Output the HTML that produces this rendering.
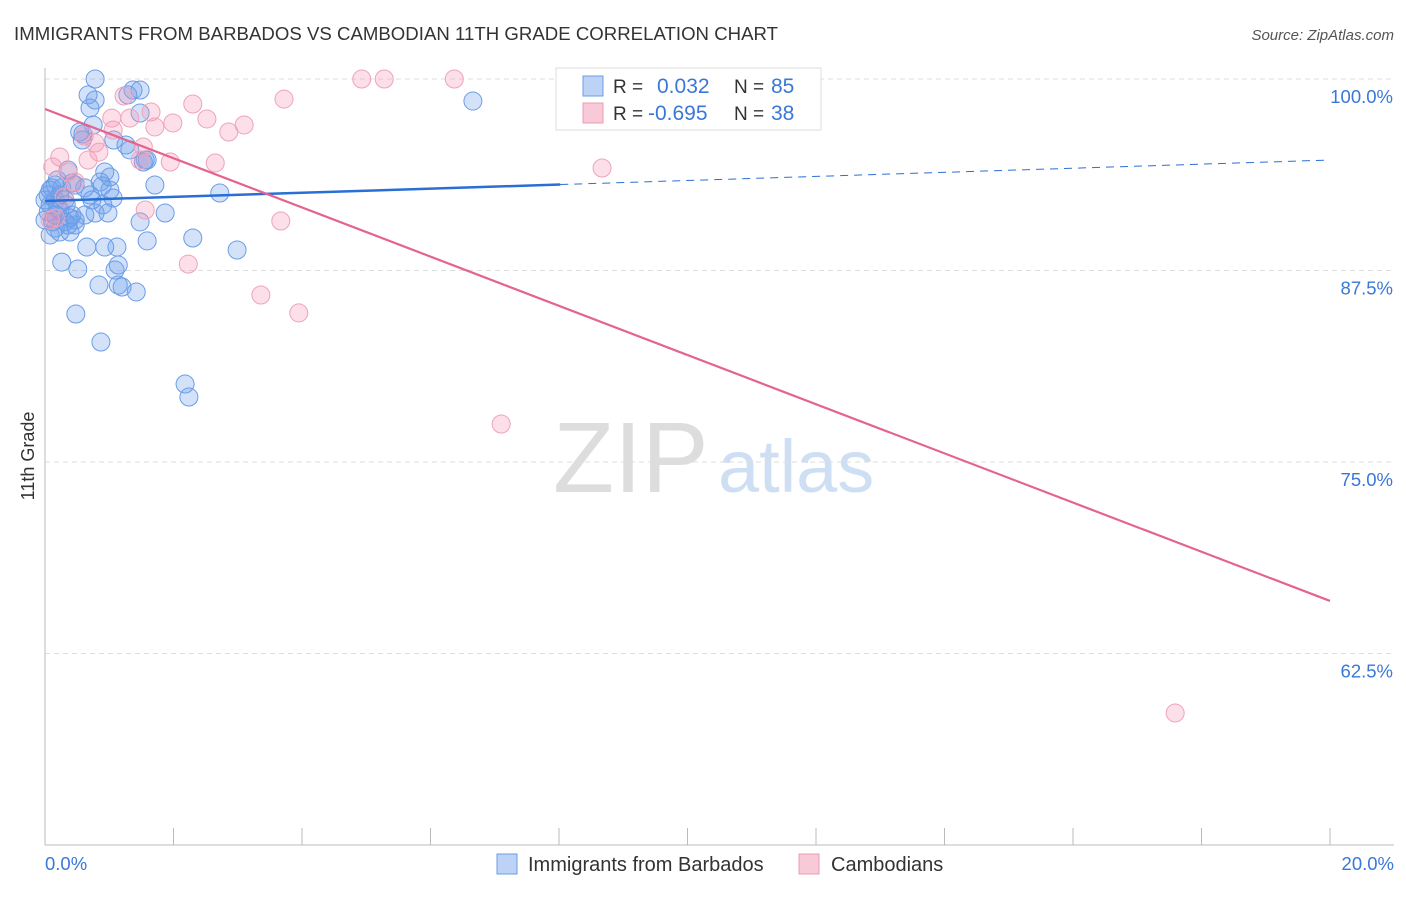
<!DOCTYPE html>
<html><head><meta charset="utf-8"><style>
body{margin:0;background:#fff;font-family:"Liberation Sans",sans-serif;}
svg text{font-family:"Liberation Sans",sans-serif;}
</style></head><body>
<svg id="chart" width="1406" height="892" xmlns="http://www.w3.org/2000/svg">
<text x="14" y="40" font-size="18.6" fill="#333" textLength="764">IMMIGRANTS FROM BARBADOS VS CAMBODIAN 11TH GRADE CORRELATION CHART</text>
<text x="1394" y="40" font-size="15" fill="#555" text-anchor="end" font-style="italic">Source: ZipAtlas.com</text>
<text x="34" y="456" font-size="18" fill="#333" text-anchor="middle" transform="rotate(-90 34 456)">11th Grade</text>
<text x="553" y="492" font-size="100" fill="#ddd" font-family="Liberation Serif">ZIP</text>
<text x="718" y="492" font-size="74" fill="#cfdff3">atlas</text>
<g id="grid"></g><g id="axes"></g><g id="pts"></g><g id="lines"></g>
<g>
<rect x="556" y="68" width="265" height="62" fill="#fff" stroke="#ddd"/>
<rect x="583" y="76" width="20" height="20" fill="#bcd3f5" stroke="#6b9de8"/>
<rect x="583" y="103" width="20" height="20" fill="#f8cad8" stroke="#ec9bb5"/>
<text x="613" y="93" font-size="19" fill="#333">R = </text><text x="657" y="93" font-size="21" fill="#3a78d8">0.032</text>
<text x="734" y="93" font-size="19" fill="#333">N = </text><text x="771" y="93" font-size="21" fill="#3a78d8">85</text>
<text x="613" y="120" font-size="19" fill="#333">R = </text><text x="648" y="120" font-size="21" fill="#3a78d8">-0.695</text>
<text x="734" y="120" font-size="19" fill="#333">N = </text><text x="771" y="120" font-size="21" fill="#3a78d8">38</text>
</g>
<g>
<rect x="497" y="854" width="20" height="20" fill="#bcd3f5" stroke="#6b9de8"/>
<text x="528" y="871" font-size="20" fill="#333">Immigrants from Barbados</text>
<rect x="799" y="854" width="20" height="20" fill="#f8cad8" stroke="#ec9bb5"/>
<text x="831" y="871" font-size="20" fill="#333">Cambodians</text>
</g>
</svg>
<script>
const blueX=[.78,.67,1.37,1.48,.78,.70,1.29,1.48,.75,.54,.58,1.07,1.26,1.59,1.53,.93,1.01,.36,.16,.42,.62,.89,1.71,2.72,.08,.23,.70,1.06,.90,.08,.20,.31,.16,.39,.47,.78,.98,1.87,1.48,.23,.39,.08,2.30,1.59,.93,.65,1.12,2.99,.26,.51,1.14,1.09,.84,1.20,1.42,.48,.87,2.18,2.24,6.66,.16,.31,.05,.11,.47,.26,0,.12,.36,.62,1.14,.42,.23,.86,1.32,1.56,.59,.19,.05,.33,.47,.16,.73,1.01,0];
const blueY=[100,98.96,99.28,99.28,98.63,98.11,98.96,97.78,97.0,96.54,96.02,96.02,95.69,94.71,94.58,93.93,93.6,94.06,93.08,93.21,92.89,93.02,93.08,92.56,92.75,92.43,92.43,92.23,91.78,91.78,91.58,92.1,91.12,90.93,90.47,91.25,91.25,91.25,90.67,90.01,90.01,89.82,89.62,89.43,89.03,89.03,89.03,88.84,88.05,87.6,87.86,87.53,86.55,86.42,86.1,84.66,82.83,80.09,79.24,98.56,92.1,90.67,91.32,92.89,93.08,92.89,92.1,90.67,90.47,91.12,86.55,91.12,91.45,93.28,95.37,94.71,96.41,93.41,92.43,91.78,90.8,90.27,92.1,92.75,90.8];
const pinkX=[4.93,5.28,6.37,3.72,2.30,1.65,1.23,1.32,2.52,1.99,1.71,3.10,2.86,1.06,1.53,.84,.67,.23,.12,.36,1.95,2.65,1.48,.61,1.04,1.56,3.67,2.23,3.36,3.95,7.10,8.67,17.59,.16,.08,.30,.47,.78];
const pinkY=[100,100,100,98.69,98.37,97.85,98.89,97.45,97.39,97.13,96.87,97.0,96.54,96.67,95.56,95.23,94.71,94.91,94.26,93.93,94.58,94.52,94.71,96.28,97.45,91.45,90.73,87.92,85.9,84.73,77.48,94.19,58.62,90.93,90.8,92.3,93.28,95.82];
const yTicks=[100,87.5,75,62.5];
const yTickLabels=["100.0%","87.5%","75.0%","62.5%"];
const xTickLabels=["0.0%","20.0%"];
const blueTrend=[92.04,94.71], blueSolidEnd=8.02;
const pinkTrend=[98.04,65.93];
const NS="http://www.w3.org/2000/svg";
const X=v=>45+v*64.25, Y=v=>79+(100-v)*15.32;
function mk(t,a,p){const e=document.createElementNS(NS,t);for(const k in a)e.setAttribute(k,a[k]);document.getElementById(p).appendChild(e);return e;}
yTicks.forEach((t,i)=>{
 let g=mk('line',{x1:45,x2:1394,y1:Y(t),y2:Y(t),stroke:'#ddd','stroke-dasharray':'5 4'},'grid');
 
 
 let l=mk('text',{x:1393,y:Y(t)+24,'font-size':18.5,fill:'#3a78d8','text-anchor':'end'},'axes');l.textContent=yTickLabels[i];
 
 
});
let ax=mk('line',{x1:45,x2:45,y1:68,y2:845,stroke:'#bbb'},'axes');


let bx=mk('line',{x1:45,x2:1394,y1:845,y2:845,stroke:'#bbb'},'axes');


for(let i=1;i<=10;i++){let t=mk('line',{x1:X(i*2),x2:X(i*2),y1:828,y2:845,stroke:'#bbb'},'axes');
 
 }
[[0,'start',45],[20,'end',1394]].forEach((d,i)=>{let l=mk('text',{x:d[2],y:870,'font-size':18.5,fill:'#3a78d8','text-anchor':d[1]},'axes');l.textContent=xTickLabels[i];
 
 });
blueX.forEach((v,i)=>{let c=mk('circle',{cx:X(v),cy:Y(blueY[i]),r:9,fill:'rgba(110,160,235,0.3)',stroke:'#6a9de6','stroke-width':1},'pts');
 
 });
pinkX.forEach((v,i)=>{let c=mk('circle',{cx:X(v),cy:Y(pinkY[i]),r:9,fill:'rgba(244,150,180,0.3)',stroke:'#eea3bb','stroke-width':1},'pts');
 
 });
const by=x=>blueTrend[0]+(blueTrend[1]-blueTrend[0])*x/20;
let b1=mk('line',{x1:X(0),y1:Y(by(0)),x2:X(blueSolidEnd),y2:Y(by(blueSolidEnd)),stroke:'#2a6fd6','stroke-width':2.5},'lines');


let b2=mk('line',{x1:X(blueSolidEnd),y1:Y(by(blueSolidEnd)),x2:X(20),y2:Y(by(20)),stroke:'#2a6fd6','stroke-width':1,'stroke-dasharray':'8 6'},'lines');


let p1=mk('line',{x1:X(0),y1:Y(pinkTrend[0]),x2:X(20),y2:Y(pinkTrend[1]),stroke:'#e4638f','stroke-width':2.2},'lines');


</script>
</body></html>
